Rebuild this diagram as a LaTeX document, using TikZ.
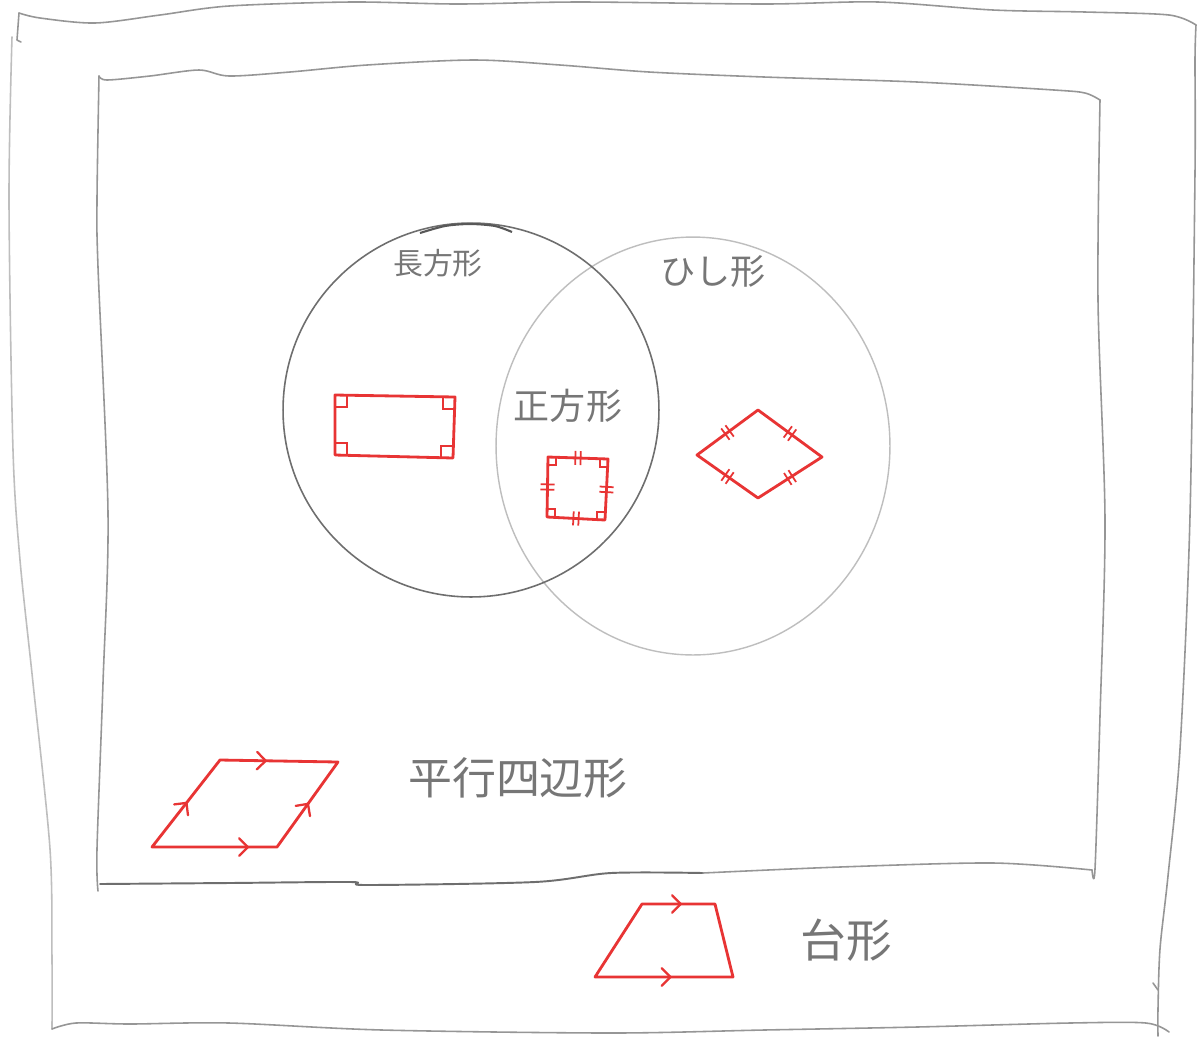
\documentclass[tikz,border=0pt]{standalone}
\usepackage{fontspec}
\newfontfamily\jp{Noto Sans CJK JP}
\usetikzlibrary{decorations.markings,arrows.meta}
\definecolor{penred}{RGB}{232,52,52}
\definecolor{pencil}{RGB}{150,150,150}
\definecolor{pencildark}{RGB}{110,110,110}
\definecolor{pencillight}{RGB}{190,190,190}
\definecolor{txtgray}{RGB}{118,118,118}
\tikzset{
  frameline/.style={draw=pencil, line width=0.9pt, line cap=round, line join=round},
  redline/.style={draw=penred, line width=1.6pt, line join=round, line cap=round},
  rtmark/.style={draw=penred, line width=1.1pt},
  dtick/.style={postaction={decorate, decoration={markings,
     mark=at position 0.5 with {\draw[penred, line width=1pt] (-1.5pt,-4pt)--(-1.5pt,4pt) (1.5pt,-4pt)--(1.5pt,4pt);}}}},
  parmark/.style={postaction={decorate, decoration={markings,
     mark=at position #1 with {\draw[penred, line width=1.3pt, line cap=round, line join=round] (-4.5pt,5pt)--(0.5pt,0)--(-4.5pt,-5pt);}}}},
  lbl/.style={text=txtgray, inner sep=0pt},
}
\begin{document}
\begin{tikzpicture}[x=0.02cm,y=-0.02cm]
\fill[white] (0,0) rectangle (1198,1036);
\useasboundingbox (0,0) rectangle (1198,1036);

% outer frame
\draw[frameline] plot[smooth] coordinates {(19,13) (40,18) (95,23) (160,15) (229,6) (351,2) (458,4) (580,2) (764,4) (878,2) (993,10) (1085,12) (1169,15) (1196,25)};
\draw[frameline] (19,13) -- (17,40) -- (21,42);
\draw[frameline, draw=pencillight] plot[smooth] coordinates {(12,37) (9,200) (13,450) (20,560) (33,683) (50,849) (52,960) (52,1029)};
\draw[frameline] plot[smooth] coordinates {(52,1029) (76,1023) (130,1024) (229,1023) (382,1030) (611,1033) (764,1030) (917,1027) (1070,1023) (1146,1023) (1169,1032)};
\draw[frameline] plot[smooth] coordinates {(1196,25) (1195,60) (1195,173) (1190,516) (1180,749) (1168,876) (1160,949) (1158,1009) (1158,1036)};
\draw[frameline] (1153,983) -- (1158,990);

% inner frame
\draw[frameline] plot[smooth] coordinates {(99,76) (107,80) (150,76) (199,70) (229,76) (290,72) (367,65) (474,60) (560,65) (649,72) (764,77) (917,82) (1054,90) (1085,93) (1100,100)};
\draw[frameline] plot[smooth] coordinates {(99,76) (97,200) (98,267) (108,513) (103,683) (97,849) (98,891)};
\draw[frameline, draw=pencildark, line width=1.1pt] plot[smooth] coordinates {(100,884) (229,883) (351,882) (367,885) (535,882) (611,873) (703,873)};
\draw[frameline] plot[smooth] coordinates {(703,873) (840,867) (993,863) (1092,870)};
\draw[frameline] plot[smooth] coordinates {(1100,100) (1098,300) (1105,520) (1100,716) (1095,869) (1092,870)};

% circles
\coordinate (c1) at (471,410);
\coordinate (c2) at (693,446);
\draw[draw=pencillight, line width=0.8pt] (c2) ellipse [x radius=3.94cm, y radius=4.18cm];
\draw[draw=pencildark, line width=0.9pt] (c1) ellipse [x radius=3.76cm, y radius=3.74cm];
\draw[draw=pencildark!80!black, line width=1.2pt] plot[smooth] coordinates {(420,233) (445,226) (470,224) (495,226) (512,232)};

% labels
\node[lbl, font=\jp\fontsize{17}{17}\selectfont] (tchou) at (438,263) {長方形};
\node[lbl, font=\jp\fontsize{20}{20}\selectfont] (thishi) at (713,272) {ひし形};
\node[lbl, font=\jp\fontsize{20.5}{20.5}\selectfont] (tsei) at (568,406) {正方形};
\node[lbl, font=\jp\fontsize{25}{25}\selectfont] (theikou) at (518,778) {平行四辺形};
\node[lbl, font=\jp\fontsize{26}{26}\selectfont] (tdai) at (846,940) {台形};

% rectangle
\coordinate (r1) at (335,395);
\coordinate (r2) at (455,397);
\coordinate (r3) at (453,458);
\coordinate (r4) at (335,455);
\draw[redline] (r1) -- (r2) -- (r3) -- (r4) -- cycle;
\draw[rtmark] (347,395) -- (347,407) -- (335,407);
\draw[rtmark] (443,397) -- (443,409) -- (455,409);
\draw[rtmark] (441,458) -- (441,446) -- (453,446);
\draw[rtmark] (347,455) -- (347,443) -- (335,443);

% square
\coordinate (s1) at (548,457);
\coordinate (s2) at (608,459);
\coordinate (s3) at (605,520);
\coordinate (s4) at (547,517);
\draw[redline] (s1) -- (s2) -- (s3) -- (s4) -- cycle;
\path[dtick] (s1) -- (s2);
\path[dtick] (s2) -- (s3);
\path[dtick] (s3) -- (s4);
\path[dtick] (s4) -- (s1);
\draw[rtmark] (556,457) -- (556,465) -- (548,465);
\draw[rtmark] (600,459) -- (600,467) -- (608,467);
\draw[rtmark] (597,520) -- (597,512) -- (605,512);
\draw[rtmark] (555,517) -- (555,509) -- (547,509);

% rhombus
\coordinate (d1) at (697,455);
\coordinate (d2) at (758,410);
\coordinate (d3) at (822,457);
\coordinate (d4) at (758,498);
\draw[redline] (d1) -- (d2) -- (d3) -- (d4) -- cycle;
\path[dtick] (d1) -- (d2);
\path[dtick] (d2) -- (d3);
\path[dtick] (d3) -- (d4);
\path[dtick] (d4) -- (d1);

% parallelogram
\coordinate (p1) at (152,847);
\coordinate (p2) at (277,847);
\coordinate (p3) at (338,762);
\coordinate (p4) at (220,760);
\draw[redline] (p1) -- (p2) -- (p3) -- (p4) -- cycle;
\path[parmark=0.76] (p1) -- (p2);
\path[parmark=0.5] (p2) -- (p3);
\path[parmark=0.38] (p4) -- (p3);
\path[parmark=0.5] (p1) -- (p4);

% trapezoid
\coordinate (t1) at (595,977);
\coordinate (t2) at (733,977);
\coordinate (t3) at (715,904);
\coordinate (t4) at (642,904);
\draw[redline] (t1) -- (t2) -- (t3) -- (t4) -- cycle;
\path[parmark=0.54] (t1) -- (t2);
\path[parmark=0.52] (t4) -- (t3);
\end{tikzpicture}
\end{document}
